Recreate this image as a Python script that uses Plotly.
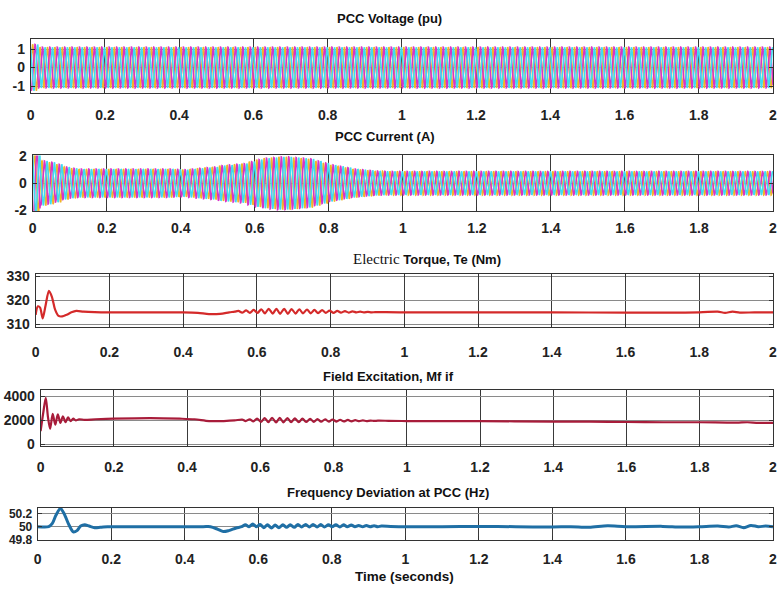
import numpy as np
import plotly.graph_objects as go

W, H = 778, 590

# ---------------- data ----------------
x_ticks = [0, 0.2, 0.4, 0.6, 0.8, 1, 1.2, 1.4, 1.6, 1.8, 2]
x_tick_text = ["0", "0.2", "0.4", "0.6", "0.8", "1", "1.2", "1.4", "1.6", "1.8", "2"]

grid_freq_hz = 50.0
# per-cycle peak amplitudes (one value per 20 ms cycle)
volt_amp = [1.25] + [1.1] * 99
cur_amp = [2.4, 1.65, 1.55, 1.4, 1.2, 1.1, 1.05, 1.05, 1.05, 1.05,
           1.05, 1.05, 1.05, 1.05, 1.05, 1.05, 1.05, 1.05, 1.05, 1.02,
           1.0, 1.05, 1.1, 1.15, 1.2, 1.3, 1.35, 1.4, 1.45, 1.6,
           1.75, 1.85, 1.9, 1.95, 1.95, 1.9, 1.85, 1.8, 1.65, 1.5,
           1.35, 1.25, 1.15, 1.05, 1.0, 0.95, 0.9, 0.88, 0.87, 0.87] + [0.87] * 50
phase_names = ["a", "b", "c"]
phase_shift_deg = [0, -120, 120]
phase_colors = ["#f0b429", "#d633c8", "#3fdcf0"]

te_t = [0, .006, .012, .019, .027, .036, .044, .053, .062, .072, .084, .097, .11, .13, .16, .2, .3, .4, .44, .47, .5, .525, .54,
        .550, .560, .571, .581, .591, .602, .612, .622, .632, .643, .653, .663, .674, .684, .694, .705, .715, .725, .736, .746,
        .756, .766, .777, .787, .797, .808, .818, .828, .839, .849, .859, .870, .880, .890, .901, .911, .921,
        .95, 1.0, 1.2, 1.4, 1.6, 1.8, 1.85, 1.87, 1.89, 1.91, 1.95, 2.0]
te_v = [314, 317.5, 317, 312.5, 318, 324, 321.5, 316, 313.5, 313.3, 314, 315, 315.6, 315.3, 315.1, 315, 315, 315, 314.8, 314.3, 314.4, 315, 315.3,
        315.6, 314.9, 315.8, 314.8, 316.0, 314.8, 316.3, 314.6, 316.5, 314.5, 316.5, 314.4, 316.5, 314.4, 316.4, 314.5, 316.3, 314.6, 316.2, 314.6,
        316.0, 314.7, 315.9, 314.8, 315.7, 314.8, 315.6, 314.9, 315.5, 314.9, 315.4, 315.0, 315.3, 315.0, 315.2, 315.0, 315.1,
        315.1, 315.0, 315.0, 315.0, 314.9, 315.0, 315.3, 314.8, 315.3, 314.9, 315.0, 315.0]

mf_t = [0, .007, .014, .02, .026, .033, .040, .047, .054, .061, .068, .075, .082, .089, .096, .105, .12, .15, .2, .3, .38, .42, .46, .5, .53,
        .550, .560, .571, .581, .591, .602, .612, .622, .632, .643, .653, .663, .674, .684, .694, .705, .715, .725, .736, .746,
        .756, .766, .777, .787, .797, .808, .818, .828, .839, .849, .859, .870, .880, .890, .901, .911, .921,
        .95, 1.0, 1.2, 1.4, 1.5, 1.6, 1.7, 1.8, 1.9, 1.93, 1.96, 2.0]
mf_v = [1100, 2600, 3900, 2300, 1300, 2550, 1650, 2500, 1800, 2350, 1850, 2250, 1950, 2150, 2000, 2100, 2050, 2100, 2150, 2200, 2150, 2100, 1950, 1950, 2000,
        2080, 1950, 2100, 1920, 2150, 1880, 2200, 1850, 2220, 1840, 2220, 1840, 2200, 1850, 2180, 1860, 2160, 1870, 2140, 1880,
        2120, 1890, 2100, 1900, 2080, 1910, 2060, 1920, 2040, 1930, 2020, 1940, 2000, 1950, 1990, 1960, 1980,
        1970, 1950, 1950, 1900, 1900, 1870, 1850, 1850, 1820, 1850, 1800, 1800]

f_t = [0, .03, .04, .05, .062, .072, .085, .097, .107, .117, .128, .14, .155, .17, .19, .2, .45, .47, .49, .505, .52, .54, .555, .565, .575, .585, .595, .605,
       .615, .625, .636, .646, .656, .667, .677, .687, .698, .708, .718, .729, .739, .749, .760, .770,
       .780, .791, .801, .811, .822, .832, .842, .853, .863, .873, .884, .894, .904, .915, .925, .935,
       .96, 1.0, 1.1, 1.2, 1.3, 1.4, 1.45, 1.5, 1.55, 1.6, 1.7, 1.75, 1.8, 1.85, 1.88, 1.9, 1.92, 1.94, 1.96, 1.98, 2.0]
f_v = [50, 50, 50.05, 50.18, 50.28, 50.2, 50.03, 49.92, 49.94, 50.01, 50.03, 50.01, 49.985, 49.99, 50.0, 50.0, 50.0, 50.0, 49.96, 49.925, 49.94, 49.98, 50.0, 50.03, 50.0, 50.04, 50.0, 50.035,
       49.985, 50.03, 49.98, 50.025, 49.985, 50.03, 49.99, 50.03, 49.99, 50.035, 49.995, 50.035, 49.995, 50.035, 49.995, 50.035,
       49.995, 50.03, 50.0, 50.03, 49.995, 50.03, 50.0, 50.025, 50.0, 50.02, 50.0, 50.02, 50.0, 50.015, 50.0, 50.01,
       50.005, 50.0, 50.0, 50.005, 50.0, 49.995, 50.0, 49.99, 50.015, 50.0, 50.005, 49.995, 50.0, 50.01, 49.995, 50.015, 49.985, 50.02, 50.0, 50.01, 50.0]

titles = ["PCC Voltage (pu)", "PCC Current (A)",
          '<span style="font-family:Liberation Serif;font-weight:normal;font-size:15px">Electric</span> Torque, Te (Nm)',
          "Field Excitation, Mf if", "Frequency Deviation at PCC (Hz)"]
y_ticks = [[-1, 0, 1], [-2, 0, 2], [310, 320, 330], [0, 2000, 4000], [49.8, 50, 50.2]]
y_tick_text = [["-1", "0", "1"], ["-2", "0", "2"], ["310", "320", "330"], ["0", "2000", "4000"], ["49.8", "50", "50.2"]]
y_ranges = [[-1.37, 1.53], [-2.06, 2.06], [308.8, 331.2], [-163, 4571], [49.795, 50.29]]

# ---------------- layout geometry (pixels) ----------------
boxes = [(27, 33, 88), (29, 152, 209), (32, 273, 328), (37, 392, 450), (34, 513, 546)]
right_px = 777
xlab_standoff = [9, 4, 12, 8, 6]
ytick_size = [14, 14, 14, 14, 12]
title_pos = [(390, 12), (385, 133), (427, 258), (388, 378), (388, 497)]

# ---------------- three-phase waveforms ----------------
t = np.arange(0, 2.0 + 1e-9, 0.0005)
cyc = np.minimum((t / 0.02).astype(int), 99)

fig = go.Figure()

def add_3ph(amps, idx):
    a = np.array(amps)[cyc]
    for name, sh, col in zip(phase_names, phase_shift_deg, phase_colors):
        y = a * np.sin(2 * np.pi * grid_freq_hz * t + np.deg2rad(sh))
        fig.add_trace(go.Scatter(x=t, y=y, mode="lines", name=name,
                                 line=dict(color=col, width=1.6),
                                 xaxis=f"x{idx}" if idx > 1 else "x",
                                 yaxis=f"y{idx}" if idx > 1 else "y",
                                 showlegend=False))

add_3ph(volt_amp, 1)
add_3ph(cur_amp, 2)

fig.add_trace(go.Scatter(x=te_t, y=te_v, mode="lines", line=dict(color="#d42a2a", width=2.2, shape="spline", smoothing=0.8),
                         xaxis="x3", yaxis="y3", showlegend=False))
fig.add_trace(go.Scatter(x=mf_t, y=mf_v, mode="lines", line=dict(color="#a81c3a", width=2.2, shape="spline", smoothing=0.8),
                         xaxis="x4", yaxis="y4", showlegend=False))
fig.add_trace(go.Scatter(x=f_t, y=f_v, mode="lines", line=dict(color="#1f6fa5", width=3, shape="spline", smoothing=0.8),
                         xaxis="x5", yaxis="y5", showlegend=False))

FAM = "Liberation Sans, Arial, sans-serif"
tick_font = dict(family=FAM, size=14, color="#222", weight="bold")
title_font = dict(family=FAM, size=13, color="#111", weight="bold")

layout = dict(width=W, height=H, margin=dict(l=0, r=0, t=0, b=0),
              paper_bgcolor="white", plot_bgcolor="white", showlegend=False)

annotations = []
for i in range(5):
    n = i + 1
    left, top, bot = boxes[i]
    xk = "xaxis" if n == 1 else f"xaxis{n}"
    yk = "yaxis" if n == 1 else f"yaxis{n}"
    layout[xk] = dict(domain=[left / W, right_px / W], range=[0, 2], anchor="y" if n == 1 else f"y{n}",
                      tickvals=x_ticks, ticktext=x_tick_text, tickfont=tick_font,
                      showgrid=True, gridcolor="#3a3a3a", gridwidth=1,
                      showline=True, linecolor="#333", linewidth=1, mirror="ticks",
                      ticks="inside", ticklen=4, tickcolor="#333",
                      zeroline=False, ticklabelstandoff=xlab_standoff[i],
                      ticklabeloverflow="allow")
    layout[yk] = dict(domain=[(H - bot) / H, (H - top) / H], range=y_ranges[i], anchor="x" if n == 1 else f"x{n}",
                      tickvals=y_ticks[i], ticktext=y_tick_text[i],
                      tickfont=dict(family=FAM, size=ytick_size[i], color="#222", weight="bold"),
                      showgrid=True, gridcolor="#8a8a8a", gridwidth=1,
                      showline=True, linecolor="#333", linewidth=1, mirror="ticks",
                      ticks="inside", ticklen=4, tickcolor="#333",
                      zeroline=False, ticklabelstandoff=2, ticklabeloverflow="allow")
    tx, ty = title_pos[i]
    annotations.append(dict(text=titles[i], x=tx / W, y=1 - ty / H, xref="paper", yref="paper",
                            xanchor="center", yanchor="middle", showarrow=False, font=title_font))

annotations.append(dict(text="Time (seconds)", x=405 / W, y=1 - 583 / H, xref="paper", yref="paper",
                        xanchor="center", yanchor="middle", showarrow=False,
                        font=dict(family=FAM, size=13.5, color="#111", weight="bold")))
layout["annotations"] = annotations
fig.update_layout(**layout)

fig.write_html("out.html")
